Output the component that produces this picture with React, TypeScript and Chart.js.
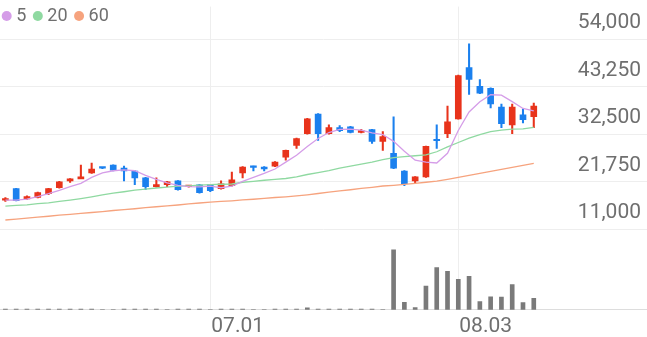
import React, { useEffect, useRef } from 'react';
import { Chart, registerables } from 'chart.js';

Chart.register(...registerables);
Chart.defaults.font.family = 'Roboto, sans-serif';

// 60 trading-day slots (last 10 are empty future slots)
const dates = [
  '06.04', '06.05', '06.08', '06.09', '06.10', '06.11', '06.12', '06.15', '06.16', '06.17',
  '06.18', '06.19', '06.22', '06.23', '06.24', '06.25', '06.26', '06.29', '06.30', '07.01',
  '07.02', '07.03', '07.06', '07.07', '07.08', '07.09', '07.10', '07.13', '07.14', '07.15',
  '07.16', '07.17', '07.20', '07.21', '07.22', '07.23', '07.24', '07.27', '07.28', '07.29',
  '07.30', '07.31', '08.03', '08.04', '08.05', '08.06', '08.07', '08.10', '08.11', '08.12',
  '08.13', '08.14', '08.18', '08.19', '08.20', '08.21', '08.24', '08.25', '08.26', '08.27',
];
const shownDates = ['07.01', '08.03'];
const priceTicks = [11000, 21750, 32500, 43250, 54000];

const opens = [
  17550, 20150, 17800, 18150, 19000, 20350, 21900, 22350, 23700, 24900,
  25500, 24800, 24150, 22600, 20600, 21050, 21900, 20600, 21000, 21050,
  20150, 20800, 23700, 25050, 25050, 25250, 27250, 29950, 32600, 37050,
  32600, 33950, 34150, 32850, 33500, 30850, 28150, 24150, 21900, 22800,
  31100, 32600, 35950, 47550, 43300, 42850, 38600, 34600, 36850, 36450,
];
const highs = [
  18150, 20250, 18550, 19350, 20250, 21800, 22450, 25500, 25950, 25000,
  25550, 25250, 24250, 22700, 22600, 21800, 22000, 20900, 21100, 21100,
  21900, 23900, 25150, 25250, 25150, 26250, 28900, 31600, 36050, 37150,
  34600, 34400, 34250, 33600, 33600, 33050, 36400, 24250, 22900, 29800,
  34600, 38850, 45850, 52900, 44850, 42950, 39300, 39300, 38200, 39500,
];
const lows = [
  17250, 17350, 17700, 18050, 18800, 20250, 21550, 22700, 23600, 24700,
  24150, 21900, 21050, 19900, 20500, 20600, 19800, 20500, 19150, 19450,
  20050, 20700, 22600, 24150, 24150, 25150, 26600, 29250, 32500, 31050,
  32500, 33050, 32750, 32750, 30400, 28800, 24700, 20800, 21450, 22700,
  29250, 31700, 35850, 41500, 41650, 38400, 33950, 32600, 35050, 33950,
];
const closes = [
  17800, 17450, 18350, 19250, 20150, 21700, 22350, 22800, 24600, 24800,
  24350, 24150, 22600, 20600, 21050, 21700, 19900, 20800, 19250, 19700,
  21250, 22150, 25050, 24950, 24600, 26150, 28800, 31500, 35950, 32600,
  33950, 33300, 32850, 33300, 30850, 31950, 24800, 21250, 22800, 29700,
  31000, 35300, 45750, 44850, 41750, 39300, 34850, 38600, 35750, 38850,
];
// volume, thousand shares
const volumes = [
  80, 80, 80, 80, 80, 80, 80, 80, 80, 20,
  20, 80, 80, 80, 80, 20, 80, 80, 80, 20,
  80, 80, 80, 20, 20, 80, 80, 80, 200, 80,
  80, 80, 80, 80, 80, 20, 6100, 770, 230, 2400,
  4300, 3900, 3100, 3400, 830, 1330, 1300, 2570, 730, 1170,
];
const ma5 = [
  17550, 17550, 17800, 18350, 19000, 19750, 20600, 21350, 22700, 23700,
  24200, 24400, 24200, 23150, 22250, 21450, 20900, 20600, 20550, 20700,
  20350, 20700, 21800, 22700, 23600, 24600, 26150, 27700, 29700, 31500,
  32850, 33550, 33600, 33400, 32750, 32400, 30850, 28600, 26600, 26150,
  25950, 28150, 33300, 37500, 39800, 41400, 41300, 39850, 38300, 37750,
];
const ma20 = [
  16200, 16350, 16500, 16750, 16950, 17250, 17550, 17900, 18300, 18750,
  19150, 19450, 19800, 20050, 20300, 20500, 20700, 20800, 20950, 21050,
  21150, 21200, 21600, 21800, 22050, 22250, 22450, 22800, 23350, 23800,
  24250, 24800, 25250, 25700, 26150, 26700, 27150, 27400, 27600, 27800,
  28500, 29600, 30600, 31600, 32400, 33050, 33400, 33600, 33700, 34000,
];
const ma60 = [
  13050, 13250, 13500, 13700, 13900, 14150, 14350, 14550, 14750, 14950,
  15200, 15400, 15600, 15850, 16050, 16250, 16450, 16700, 16900, 17100,
  17250, 17400, 17600, 17750, 17950, 18150, 18300, 18500, 18750, 19050,
  19350, 19650, 19900, 20200, 20450, 20750, 20900, 21100, 21350, 21600,
  21850, 22250, 22700, 23150, 23600, 24050, 24500, 24950, 25400, 25850,
];
const maLabels = ['5', '20', '60'];

const RED = '#e8331b';
const BLUE = '#1b80ee';
const MA_COLORS = ['#d59de8', '#8fd9a1', '#f6a37e'];
const TEXT = '#6f6f6f';

const legendPlugin = {
  id: 'maLegend',
  afterDraw(chart: any) {
    const { ctx } = chart;
    ctx.save();
    ctx.font = '18px Roboto, sans-serif';
    ctx.textBaseline = 'middle';
    ctx.textAlign = 'left';
    let x = 1.7;
    const y = 16;
    maLabels.forEach((lab, i) => {
      ctx.fillStyle = MA_COLORS[i];
      ctx.beginPath();
      ctx.arc(x + 5, y, 5, 0, Math.PI * 2);
      ctx.fill();
      ctx.fillStyle = TEXT;
      ctx.fillText(lab, x + 14.5, y);
      x += 14.5 + ctx.measureText(lab).width + 6.5;
    });
    ctx.restore();
  },
};

export default function App() {
  const ref = useRef<HTMLCanvasElement>(null);
  useEffect(() => {
    document.body.style.margin = '0';
    const colors = closes.map((c, i) => (c >= opens[i] ? RED : BLUE));
    const chart = new Chart(ref.current as HTMLCanvasElement, {
      type: 'bar',
      data: {
        labels: dates,
        datasets: [
          { type: 'line', label: maLabels[0], data: ma5, borderColor: MA_COLORS[0], borderWidth: 1.3, pointRadius: 0, yAxisID: 'y', order: 0 },
          { type: 'line', label: maLabels[1], data: ma20, borderColor: MA_COLORS[1], borderWidth: 1.3, pointRadius: 0, yAxisID: 'y', order: 0 },
          { type: 'line', label: maLabels[2], data: ma60, borderColor: MA_COLORS[2], borderWidth: 1.3, pointRadius: 0, yAxisID: 'y', order: 0 },
          { type: 'bar', label: 'body', data: opens.map((o, i) => [o, closes[i]]), backgroundColor: colors, barThickness: 6, minBarLength: 1.5, grouped: false, yAxisID: 'y', order: 1 },
          { type: 'bar', label: 'wick', data: lows.map((l, i) => [l, highs[i]]), backgroundColor: colors, barThickness: 1.4, grouped: false, yAxisID: 'y', order: 2 },
          { type: 'bar', label: 'volume', data: volumes, backgroundColor: '#7a7a7a', barThickness: 4, grouped: false, yAxisID: 'yv', order: 3 },
        ] as any,
      },
      options: {
        responsive: false,
        animation: false,
        layout: { padding: { top: 0, left: 0, right: 0, bottom: -6 } },
        plugins: { legend: { display: false }, tooltip: { enabled: false } },
        scales: {
          x: {
            offset: true,
            grid: {
              offset: false,
              drawTicks: false,
              color: (c: any) => (shownDates.includes(dates[c.index]) ? '#eeeeee' : 'rgba(0,0,0,0)'),
            },
            border: { display: true, color: '#dddddd' },
            ticks: {
              autoSkip: false,
              maxRotation: 0,
              align: 'start',
              padding: 4,
              labelOffset: 1,
              color: TEXT,
              font: { size: 21 },
              callback: (_v: any, i: number) => (shownDates.includes(dates[i]) ? dates[i] : ''),
            },
          },
          y: {
            position: 'right',
            min: -7269,
            max: 61352,
            afterBuildTicks: (s: any) => {
              s.ticks = priceTicks.map((v) => ({ value: v }));
            },
            grid: { color: '#eeeeee', drawTicks: false },
            border: { display: false },
            ticks: {
              mirror: true,
              padding: -6,
              labelOffset: -16,
              color: TEXT,
              font: { size: 21 },
              callback: (v: any) => Number(v).toLocaleString('en-US'),
            },
          },
          yv: { display: false, min: 0, max: 30800 },
        },
      } as any,
      plugins: [legendPlugin],
    });
    return () => chart.destroy();
  }, []);
  return <canvas ref={ref} width={647} height={337} style={{ display: 'block' }} />;
}
